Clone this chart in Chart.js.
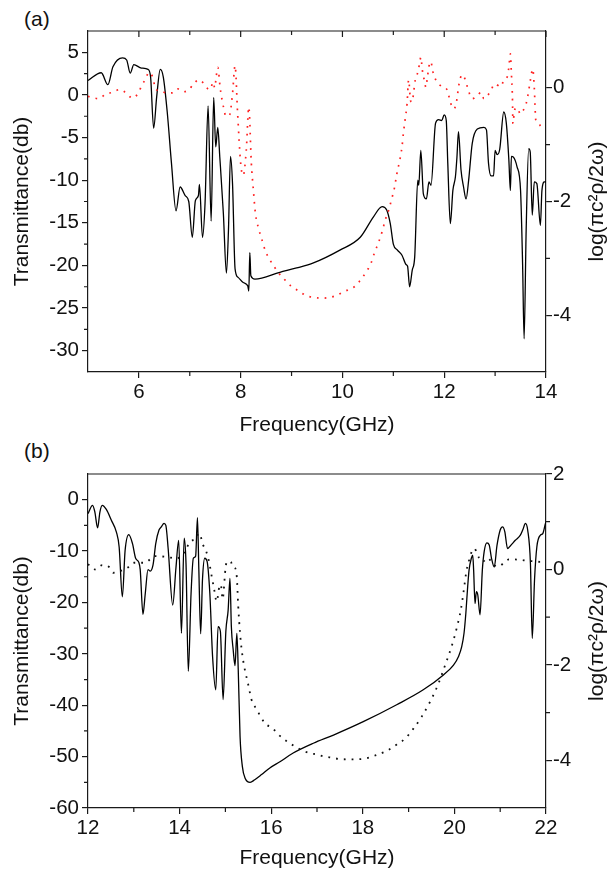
<!DOCTYPE html>
<html>
<head>
<meta charset="utf-8">
<script src="https://cdn.jsdelivr.net/npm/chart.js@4.4.0/dist/chart.umd.min.js"></script>
<style>
  body { margin: 0; background: #fff; width: 614px; height: 874px; position: relative; overflow: hidden; }
  canvas { position: absolute; left: 0; }
  #chartA { top: 0; }
  #chartB { top: 445px; }
  .tag { position: absolute; left: 24px; font: 21px 'Liberation Sans', Arial, sans-serif; color: #111; }
</style>
</head>
<body>
<div class="tag" style="top:7px">(a)</div>
<div class="tag" style="top:439px">(b)</div>
<canvas id="chartA" width="614" height="445"></canvas>
<canvas id="chartB" width="614" height="429"></canvas>
<script>
// panel (a): 5-14 GHz
const aFreq = [5.00, 5.26, 5.39, 5.49, 5.68, 5.76, 5.83, 5.90, 6.05, 6.18, 6.23, 6.29, 6.35, 6.42, 6.48,
  6.56, 6.64, 6.73, 6.81, 6.91, 6.98, 7.05, 7.11, 7.17, 7.19, 7.25, 7.30, 7.36, 7.42, 7.47, 7.51, 7.55,
  7.59, 7.66, 7.72, 7.76, 7.80, 7.84, 7.89, 7.95, 8.05, 8.14, 8.16, 8.18, 8.20, 8.28, 8.77, 9.10, 9.43,
  9.95, 10.35, 10.61, 10.78, 10.87, 10.94, 11.00, 11.08, 11.17, 11.25, 11.28, 11.32, 11.37, 11.42, 11.48,
  11.50, 11.54, 11.59, 11.65, 11.70, 11.74, 11.83, 11.89, 11.95, 12.00, 12.04, 12.07, 12.12, 12.17, 12.22,
  12.25, 12.28, 12.33, 12.38, 12.43, 12.48, 12.55, 12.65, 12.78, 12.83, 12.87, 12.92, 12.97, 13.00, 13.04,
  13.09, 13.17, 13.22, 13.27, 13.30, 13.32, 13.36, 13.43, 13.50, 13.54, 13.57, 13.61, 13.66, 13.69, 13.73,
  13.77, 13.82, 13.89, 13.92, 13.97, 14.00];
const aTrans = [1.7, 2.6, 1.2, 3.3, 4.35, 4.1, 2.55, 3.55, 3.15, 3.0, 2.1, -3.9, -0.2, 3.0, 2.1,
  -2.2, -8.0, -13.6, -10.8, -11.8, -12.5, -16.7, -12.4, -11.8, -10.5, -16.7, -12.7, -1.3, -14.8, -0.3, -6.1, -3.8,
  -7.3, -13.9, -20.9, -15.9, -7.2, -10.4, -20.4, -21.4, -22.0, -22.4, -23.0, -18.5, -21.2, -21.6, -20.8, -20.3, -19.7,
  -18.2, -16.7, -14.3, -13.1, -13.5, -15.1, -17.5, -18.2, -18.8, -19.9, -20.1, -22.5, -20.6, -19.0, -10.0,
  -10.6, -6.5, -11.6, -12.2, -10.2, -10.6, -3.3, -2.9, -3.0, -2.35, -3.0, -8.0, -15.1, -11.2, -9.6,
  -7.3, -4.3, -8.8, -10.8, -12.2, -10.0, -5.7, -4.0, -3.8, -4.1, -8.0, -9.5, -9.5, -6.5, -7.0,
  -6.4, -2.0, -3.3, -7.6, -11.2, -7.2, -7.3, -8.4, -11.2, -19.8, -28.6, -15.9, -6.3, -6.7, -14.1,
  -10.2, -10.4, -15.3, -11.2, -10.2, -10.2];

const aLogFreq = [5.00, 5.21, 5.35, 5.48, 5.62, 5.75, 5.87, 5.99, 6.05, 6.12, 6.20, 6.27, 6.33, 6.44, 6.54,
  6.66, 6.77, 6.87, 6.97, 7.07, 7.17, 7.25, 7.32, 7.40, 7.46, 7.49, 7.52, 7.55, 7.60, 7.67, 7.71, 7.78,
  7.84, 7.89, 7.94, 8.00, 8.05, 8.11, 8.16, 8.21, 8.25, 8.29, 8.36, 8.41, 8.49, 8.57, 8.74, 8.84, 8.98,
  9.13, 9.30, 9.45, 9.60, 9.73, 9.86, 10.00, 10.12, 10.25, 10.38, 10.48, 10.56, 10.63, 10.71, 10.78, 10.84,
  10.91, 10.96, 11.02, 11.07, 11.12, 11.17, 11.20, 11.23, 11.27, 11.30, 11.34, 11.37, 11.40, 11.43, 11.48,
  11.52, 11.54, 11.57, 11.61, 11.64, 11.67, 11.71, 11.74, 11.77, 11.81, 11.86, 11.96, 12.06, 12.12, 12.19,
  12.24, 12.29, 12.35, 12.42, 12.46, 12.55, 12.65, 12.72, 12.78, 12.85, 12.92, 12.99, 13.11, 13.17, 13.24,
  13.27, 13.30, 13.32, 13.34, 13.35, 13.38, 13.43, 13.50, 13.55, 13.61, 13.66, 13.69, 13.74, 13.77, 13.80,
  13.86, 13.89];
const aLog = [-0.15, -0.19, -0.11, -0.08, -0.03, -0.09, -0.18, -0.09, 0.03, 0.14, 0.27, 0.19, -0.02, -0.06, -0.09,
  -0.09, -0.02, -0.07, -0.04, 0.06, 0.14, 0.10, 0.01, -0.03, 0.10, 0.0, 0.2, 0.36, -0.02, -0.37, -0.50, -0.48,
  -0.10, 0.39, -0.45, -1.33, -1.54, -1.10, -0.34, -1.33, -1.80, -2.21, -2.50, -2.65, -2.88, -3.02, -3.25, -3.35, -3.48,
  -3.57, -3.66, -3.69, -3.70, -3.69, -3.66, -3.60, -3.55, -3.49, -3.35, -3.22, -3.09, -2.90, -2.72, -2.53, -2.33,
  -2.15, -1.98, -1.77, -1.51, -1.30, -1.04, -0.78, -0.57, -0.28, 0.14, -0.23, -0.25, -0.07, 0.13, 0.27,
  0.45, 0.54, 0.31, 0.13, 0.01, 0.19, 0.42, 0.46, 0.31, 0.19, 0.10, 0.02, -0.04, -0.25, -0.37,
  -0.25, 0.06, 0.23, 0.13, 0.0, -0.19, -0.14, -0.08, -0.19, -0.14, -0.04, 0.07, 0.02, 0.13, 0.20,
  0.36, 0.60, 0.25, -0.16, -0.63, -0.40, -0.35, -0.46, -0.40, -0.28, -0.05, 0.12, 0.33, 0.0, -0.57,
  -0.63, -0.67];

// panel (b): 12-22 GHz
const bFreq = [12.00, 12.10, 12.15, 12.21, 12.26, 12.31, 12.40, 12.51, 12.62, 12.68, 12.75, 12.81, 12.89, 12.97,
  13.04, 13.11, 13.14, 13.20, 13.25, 13.31, 13.36, 13.42, 13.48, 13.55, 13.60, 13.66, 13.70, 13.75, 13.85,
  13.92, 13.98, 14.04, 14.10, 14.14, 14.19, 14.25, 14.30, 14.35, 14.39, 14.42, 14.46, 14.50, 14.55, 14.60,
  14.66, 14.72, 14.79, 14.84, 14.89, 14.95, 15.01, 15.06, 15.10, 15.13, 15.17, 15.21, 15.25, 15.28, 15.32,
  15.37, 15.43, 15.54, 15.64, 15.79, 15.97, 16.19, 16.48, 16.92, 17.36, 18.01, 18.74, 19.32, 19.76, 19.98,
  20.09, 20.16, 20.21, 20.25, 20.29, 20.32, 20.37, 20.40, 20.42, 20.45, 20.48, 20.51, 20.56, 20.61, 20.65,
  20.71, 20.76, 20.81, 20.87, 20.93, 21.00, 21.05, 21.10, 21.16, 21.22, 21.33, 21.44, 21.50, 21.55, 21.60,
  21.66, 21.70, 21.75, 21.80, 21.88, 21.93, 21.99, 22.00];
const bTrans = [-2.7, -1.1, -2.4, -5.5, -2.4, -1.1, -1.9, -4.0, -6.3, -9.2, -18.9, -9.9, -6.8, -8.5,
  -11.4, -12.2, -13.6, -22.3, -18.3, -13.6, -13.9, -12.7, -8.5, -5.9, -5.3, -4.6, -5.0, -9.5, -20.5,
  -13.3, -7.9, -26.0, -7.5, -12.4, -33.4, -18.3, -11.4, -11.0, -3.5, -13.6, -26.1, -15.5, -11.4, -12.0,
  -18.2, -30.5, -37.0, -24.7, -25.6, -38.9, -25.6, -21.5, -15.3, -24.7, -29.2, -32.3, -26.0, -33.0, -46.1,
  -51.9, -54.2, -55.0, -54.5, -53.5, -52.2, -51.0, -49.3, -47.4, -45.8, -43.2, -39.9, -37.0, -34.1, -32.2,
  -30.5, -28.6, -26.0, -22.1, -16.9, -13.7, -11.4, -10.8, -13.7, -20.2, -17.9, -18.5, -22.4, -13.7, -10.1,
  -8.4, -8.8, -11.4, -13.1, -8.9, -5.9, -5.3, -6.2, -9.5, -9.0, -7.9, -6.9, -5.7, -4.6, -5.9,
  -12.4, -27.0, -15.5, -9.2, -6.9, -6.6, -4.6, -4.4];

const bLogFreq = [12.00, 12.15, 12.31, 12.46, 12.56, 12.71, 12.87, 13.00, 13.24, 13.46, 13.73, 13.93, 14.04,
  14.14, 14.24, 14.33, 14.43, 14.51, 14.58, 14.65, 14.70, 14.75, 14.81, 14.87, 14.90, 14.94, 15.00, 15.03,
  15.08, 15.12, 15.16, 15.21, 15.25, 15.28, 15.32, 15.36, 15.41, 15.50, 15.57, 15.68, 15.86, 16.03, 16.19,
  16.35, 16.52, 16.69, 16.85, 17.00, 17.15, 17.29, 17.47, 17.72, 18.01, 18.27, 18.53, 18.74, 18.93, 19.11,
  19.29, 19.47, 19.64, 19.80, 19.95, 20.05, 20.14, 20.21, 20.26, 20.32, 20.37, 20.44, 20.49, 20.54, 20.61,
  20.73, 20.84, 20.97, 21.08, 21.19, 21.30, 21.44, 21.59, 21.73, 21.87, 22.00];
const bLog = [0.11, 0.0, 0.09, 0.05, -0.07, -0.03, 0.04, 0.14, 0.14, 0.28, 0.26, 0.23, 0.28,
  0.42, 0.60, 0.62, 0.76, 0.52, 0.38, 0.13, -0.14, -0.39, -0.67, -0.35, -0.32, -0.62, 0.0, 0.16,
  0.17, 0.16, 0.05, 0.03, -0.17, -0.77, -1.34, -1.72, -2.03, -2.42, -2.73, -2.93, -3.22, -3.33, -3.49,
  -3.61, -3.71, -3.80, -3.85, -3.88, -3.92, -3.94, -3.97, -3.98, -3.97, -3.90, -3.80, -3.67, -3.54, -3.33,
  -3.08, -2.77, -2.42, -2.0, -1.58, -1.23, -0.85, -0.40, -0.05, 0.19, 0.35, 0.44, 0.34, 0.24, 0.16,
  0.24, 0.11, 0.06, 0.14, 0.21, 0.21, 0.20, 0.18, 0.17, 0.16, 0.16];

// ticks
const aXTicks = [6, 8, 10, 12, 14];
const aXMinor = [7, 9, 11, 13];
const aYTicks = [5, 0, -5, -10, -15, -20, -25, -30];
const aYMinor = [2.5, -2.5, -7.5, -12.5, -17.5, -22.5, -27.5];
const aY2Ticks = [0, -2, -4];
const aY2Minor = [-1, -3];
const bXTicks = [12, 14, 16, 18, 20, 22];
const bXMinor = [13, 15, 17, 19, 21];
const bYTicks = [0, -10, -20, -30, -40, -50, -60];
const bYMinor = [-5, -15, -25, -35, -45, -55];
const bY2Ticks = [2, 0, -2, -4];
const bY2Minor = [1, -1, -3];

const FONT = "'Liberation Sans', Arial, Helvetica, sans-serif";
const FS = 20.5;
const TITLE_FS = 21;
const AXIS = '#1a1a1a';
Chart.defaults.font.family = FONT;
Chart.defaults.font.size = FS;
Chart.defaults.color = '#111';

function pts(xs, ys) {
  return xs.map((x, i) => ({ x: x, y: ys[i] }));
}

// extra frame bits: top border, minor ticks, right-hand title read bottom-to-top
const frame = {
  id: 'frame',
  afterDraw(chart, args, o) {
    const { ctx, chartArea: a, scales } = chart;
    ctx.save();
    ctx.strokeStyle = AXIS;
    ctx.lineWidth = 1.2;
    ctx.beginPath();
    ctx.moveTo(a.left, a.top);
    ctx.lineTo(a.right, a.top);
    o.xMinor.forEach(v => {
      const p = scales.x.getPixelForValue(v);
      ctx.moveTo(p, a.bottom);
      ctx.lineTo(p, a.bottom + 4);
    });
    o.yMinor.forEach(v => {
      const p = scales.y.getPixelForValue(v);
      ctx.moveTo(a.left - 4, p);
      ctx.lineTo(a.left, p);
    });
    o.y2Minor.forEach(v => {
      const p = scales.y2.getPixelForValue(v);
      ctx.moveTo(a.right, p);
      ctx.lineTo(a.right + 4, p);
    });
    if (o.topTicks) {
      scales.x.ticks.forEach(t => {
        const p = scales.x.getPixelForValue(t.value);
        ctx.moveTo(p, a.top);
        ctx.lineTo(p, a.top + 6);
      });
      o.xMinor.forEach(v => {
        const p = scales.x.getPixelForValue(v);
        ctx.moveTo(p, a.top);
        ctx.lineTo(p, a.top + 4);
      });
    }
    ctx.stroke();

    ctx.translate(o.titleX, (a.top + a.bottom) / 2);
    ctx.rotate(-Math.PI / 2);
    ctx.font = TITLE_FS + 'px ' + FONT;
    ctx.fillStyle = '#111';
    ctx.textAlign = 'center';
    ctx.textBaseline = 'middle';
    ctx.fillText(o.title, 0, 0);
    ctx.restore();
  }
};

function makeChart(id, cfg) {
  const axisGrid = { drawOnChartArea: false, color: AXIS, lineWidth: 1.2, tickLength: 6 };
  const axisBorder = { color: AXIS, width: 1.2 };
  return new Chart(document.getElementById(id), {
    type: 'line',
    data: {
      datasets: [
        {
          data: pts(cfg.logFreq, cfg.log),
          yAxisID: 'y2',
          borderColor: cfg.dotColor,
          borderWidth: cfg.dotWidth,
          borderDash: cfg.dash,
          pointRadius: 0,
          cubicInterpolationMode: 'monotone'
        },
        {
          data: pts(cfg.freq, cfg.trans),
          yAxisID: 'y',
          borderColor: '#000',
          borderWidth: 1.3,
          pointRadius: 0,
          cubicInterpolationMode: 'monotone'
        }
      ]
    },
    options: {
      responsive: false,
      animation: false,
      layout: { padding: { top: cfg.padTop, left: 0, right: 0, bottom: 0 } },
      plugins: {
        legend: { display: false },
        tooltip: { enabled: false },
        frame: {
          xMinor: cfg.xMinor, yMinor: cfg.yMinor, y2Minor: cfg.y2Minor,
          topTicks: cfg.topTicks, title: 'log(πc²ρ/2ω)', titleX: 597
        }
      },
      scales: {
        x: {
          type: 'linear',
          min: cfg.xMin, max: cfg.xMax,
          afterBuildTicks: s => { s.ticks = cfg.xTicks.map(v => ({ value: v })); },
          afterFit: s => { s.height = cfg.xHeight; },
          ticks: { padding: 2, maxRotation: 0, autoSkip: false, color: '#111' },
          grid: axisGrid,
          border: axisBorder,
          title: { display: true, text: 'Frequency(GHz)', color: '#111', font: { size: TITLE_FS },
            padding: { top: 0, bottom: cfg.titlePad } }
        },
        y: {
          position: 'left',
          min: cfg.yMin, max: cfg.yMax,
          afterBuildTicks: s => { s.ticks = cfg.yTicks.map(v => ({ value: v })); },
          afterFit: s => { s.width = 88; },
          ticks: { padding: 3, color: '#111' },
          grid: axisGrid,
          border: axisBorder,
          title: { display: true, text: 'Transmittance(db)', color: '#111', font: { size: TITLE_FS },
            padding: { top: 10, bottom: 0 } }
        },
        y2: {
          position: 'right',
          min: cfg.y2Min, max: cfg.y2Max,
          afterBuildTicks: s => { s.ticks = cfg.y2Ticks.map(v => ({ value: v })); },
          afterFit: s => { s.width = 68; },
          ticks: { padding: 1, color: '#111' },
          grid: axisGrid,
          border: axisBorder
        }
      }
    },
    plugins: [frame]
  });
}

makeChart('chartA', {
  freq: aFreq, trans: aTrans, logFreq: aLogFreq, log: aLog,
  dotColor: '#ff2020', dotWidth: 1.7, dash: [1.7, 6],
  xMin: 5, xMax: 14, yMin: -32.5, yMax: 7.5, y2Min: -5, y2Max: 1,
  xTicks: aXTicks, xMinor: aXMinor, yTicks: aYTicks, yMinor: aYMinor, y2Ticks: aY2Ticks, y2Minor: aY2Minor,
  padTop: 31, xHeight: 73, titlePad: 7, topTicks: true
});

makeChart('chartB', {
  freq: bFreq, trans: bTrans, logFreq: bLogFreq, log: bLog,
  dotColor: '#111', dotWidth: 1.8, dash: [1.8, 6],
  xMin: 12, xMax: 22, yMin: -60, yMax: 5, y2Min: -5, y2Max: 2,
  xTicks: bXTicks, xMinor: bXMinor, yTicks: bYTicks, yMinor: bYMinor, y2Ticks: bY2Ticks, y2Minor: bY2Minor,
  padTop: 29, xHeight: 66, titlePad: 3, topTicks: false
});
</script>
</body>
</html>
